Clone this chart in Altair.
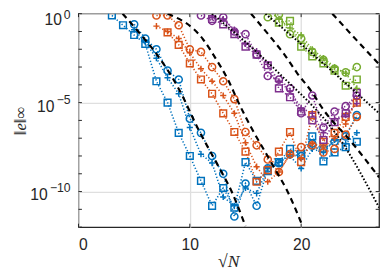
import altair as alt
import pandas as pd

# ---- data: sqrt(N) and log10(||e||_inf) ----
blue_circle_x = list(range(5, 26))
blue_circle_log = [-0.6, -1.4, -2.0, -3.2, -3.7, -5.9, -6.7, -8.0, -9.0, -11.4, -9.55,
                   -10.8, -8.7, -8.4, -7.9, -8.0, -7.3, -7.6, -7.2, -6.9, -5.7]
blue_square_x = list(range(3, 26))
blue_square_log = [-0.1, -0.65, -1.2, -1.7, -3.8, -5.0, -6.7, -8.0, -9.4, -10.8, -9.8,
                   -10.9, -8.35, -9.4, -8.85, -8.35, -7.6, -7.9, -6.9, -8.3, -7.8, -7.5, -7.2]
blue_plus_x = list(range(5, 26))
blue_plus_log = [-0.9, -1.6, -2.5, -3.6, -4.5, -6.4, -7.9, -8.4, -10.3, -10.8, -9.8,
                 -10.1, -8.7, -8.35, -8.0, -8.7, -7.6, -7.8, -7.1, -7.3, -6.7]

orange_circle_x = list(range(7, 26))
orange_circle_log = [-0.1, -0.1, -0.65, -2.0, -2.15, -3.0, -3.8, -4.8, -6.65, -7.4, -8.2,
                     -8.9, -7.9, -7.5, -7.4, -7.8, -7.6, -6.8, -5.8]
orange_square_x = list(range(8, 26))
orange_square_log = [-1.05, -1.75, -2.8, -3.7, -4.5, -5.6, -6.65, -7.75, -9.45, -8.8,
                     -7.75, -6.65, -8.35, -5.7, -7.2, -6.7, -5.8, -5.0]
orange_plus_x = list(range(7, 26))
orange_plus_log = [-0.7, -1.0, -1.4, -2.2, -3.1, -3.8, -4.6, -5.6, -7.25, -8.6, -9.45,
                   -8.9, -7.9, -8.1, -7.3, -7.5, -7.0, -6.2, -4.8]

purple_circle_x = list(range(11, 26))
purple_circle_log = [-0.1, -0.4, -0.2, -1.0, -1.15, -2.3, -3.5, -3.7, -4.2, -5.6, -4.6,
                     -6.4, -5.5, -5.2, -4.6]
purple_square_x = list(range(12, 26))
purple_square_log = [-0.3, -0.6, -1.15, -1.85, -2.3, -2.9, -4.2, -4.7, -5.5, -6.0, -7.1,
                     -6.1, -5.6, -4.45]
purple_plus_x = list(range(12, 26))
purple_plus_log = [-0.2, -0.3, -0.9, -1.7, -2.1, -2.85, -3.8, -4.35, -5.3, -5.6, -6.7,
                   -5.9, -5.7, -5.05]

green_circle_x = list(range(17, 26))
green_circle_log = [-0.2, -0.05, -1.15, -1.4, -2.15, -2.6, -3.1, -3.3, -3.0]
green_square_x = list(range(18, 26))
green_square_log = [-0.5, -0.4, -1.85, -2.4, -2.8, -3.2, -4.05, -3.7]
green_plus_x = list(range(18, 26))
green_plus_log = [-0.3, -0.8, -1.2, -2.0, -2.5, -3.0, -3.35, -4.2]

# reference curves (black)
dash1_x = [3.96, 5.9, 7.05, 9.07, 10.84, 12.5, 13.83, 15.0]
dash1_log = [0.0, -1.4, -2.3, -4.3, -6.6, -8.5, -10.1, -11.95]
dash2_x = [8.0, 11.2, 12.3, 13.5, 14.3, 15.6, 16.7, 17.8, 18.7, 20.1]
dash2_log = [0.0, -1.45, -2.5, -3.8, -4.9, -6.5, -7.7, -8.9, -9.9, -11.9]
dash3_x = [15.5, 17.4, 18.5, 19.65, 20.9, 22.0, 24.5, 27.0]
dash3_log = [0.0, -1.43, -2.3, -3.35, -4.35, -5.4, -7.2, -9.2]
dash4_x = [22.8, 25.0, 27.0]
dash4_log = [0.0, -1.5, -2.85]
dot1_x = [12.0, 17.6, 24.05, 27.0]
dot1_log = [0.0, -3.1, -7.6, -10.9]
dot2_x = [16.8, 22.0, 27.0]
dot2_log = [0.0, -2.8, -5.6]

x_tick_values = [0, 10, 20]
y_tick_values = [1.0, 1e-5, 1e-10]
y_tick_base = "10"
y_tick_exponents = ["0", "\u22125", "\u221210"]
y_minor_ticks = [10.0 ** (-k) for k in range(0, 13)]

color_names = ["blue", "orange", "purple", "green"]
color_values = ["#0072BD", "#D95319", "#7E2F8E", "#77AC30"]
marker_names = ["o", "s", "+"]
marker_shapes = ["circle", "square", "M-1,0L1,0M0,-1L0,1"]
marker_sizes = [54, 40, 64]

series = [
    ("blue", "o", blue_circle_x, blue_circle_log),
    ("blue", "s", blue_square_x, blue_square_log),
    ("blue", "+", blue_plus_x, blue_plus_log),
    ("orange", "o", orange_circle_x, orange_circle_log),
    ("orange", "s", orange_square_x, orange_square_log),
    ("orange", "+", orange_plus_x, orange_plus_log),
    ("purple", "o", purple_circle_x, purple_circle_log),
    ("purple", "s", purple_square_x, purple_square_log),
    ("purple", "+", purple_plus_x, purple_plus_log),
    ("green", "o", green_circle_x, green_circle_log),
    ("green", "s", green_square_x, green_square_log),
    ("green", "+", green_plus_x, green_plus_log),
]
rows = []
for i, (c, m, xs, ls) in enumerate(series):
    for xv, lv in zip(xs, ls):
        rows.append({"x": xv, "y": 10.0 ** lv, "color": c, "marker": m, "sid": i})
df = pd.DataFrame(rows)


def ref_df(curves):
    out = []
    for name, xs, ls in curves:
        for xv, lv in zip(xs, ls):
            out.append({"x": xv, "y": 10.0 ** lv, "rid": name})
    return pd.DataFrame(out)


dash_df = ref_df([("d1", dash1_x, dash1_log), ("d2", dash2_x, dash2_log),
                  ("d3", dash3_x, dash3_log), ("d4", dash4_x, dash4_log)])
dot_df = ref_df([("p1", dot1_x, dot1_log), ("p2", dot2_x, dot2_log)])

W, H = 307, 218
TXT = "#262626"
GRID = "#DFDFDF"
SANS = "Liberation Sans"

X = alt.X("x:Q", scale=alt.Scale(domain=[0, 27], nice=False, zero=False),
          axis=alt.Axis(values=x_tick_values, title="\u221aN", grid=True,
                        gridColor=GRID, gridWidth=1.3, ticks=False, tickSize=0, domain=False,
                        labelFontSize=16, labelPadding=10, labelFont=SANS,
                        labelColor=TXT, titleFont="Liberation Serif", titleFontStyle="italic",
                        titleFontWeight="normal", titleFontSize=18, titleColor=TXT,
                        titleX=153, titleY=35, titleBaseline="middle", titleAlign="center"))
Y = alt.Y("y:Q", scale=alt.Scale(type="log", domain=[1e-12, 1], nice=False),
          axis=alt.Axis(values=y_tick_values, labels=False, title="\u2016e\u2016\u221e",
                        grid=True, gridColor=GRID, gridWidth=1.3, ticks=False, tickSize=0,
                        domain=False,
                        titleFont="Liberation Serif", titleFontStyle="italic",
                        titleFontWeight="normal", titleFontSize=17, titleColor=TXT,
                        titleX=-59, titleY=109, titleAngle=270, titleBaseline="middle",
                        titleAlign="center"))

col = alt.Color("color:N", scale=alt.Scale(domain=color_names, range=color_values), legend=None)

lines = alt.Chart(df).mark_line(strokeDash=[1.3, 2.0], strokeWidth=1.6, clip=True).encode(
    x=X, y=Y, color=col, detail="sid:N")
points = alt.Chart(df).mark_point(filled=False, strokeWidth=1.5, clip=True, opacity=1).encode(
    x=X, y=Y, color=col,
    shape=alt.Shape("marker:N", scale=alt.Scale(domain=marker_names, range=marker_shapes), legend=None),
    size=alt.Size("marker:N", scale=alt.Scale(domain=marker_names, range=marker_sizes), legend=None))
dashes = alt.Chart(dash_df).mark_line(color="black", strokeDash=[6, 4.5], strokeWidth=2.2,
                                      clip=True, interpolate="monotone").encode(
    x=X, y=Y, detail="rid:N")
dots = alt.Chart(dot_df).mark_line(color="black", strokeDash=[1.6, 2.0], strokeWidth=2.0,
                                   clip=True, interpolate="monotone").encode(
    x=X, y=Y, detail="rid:N")

ytick_df = pd.DataFrame({"y": y_minor_ticks})
xtick_df = pd.DataFrame({"x": x_tick_values})
yt_left = alt.Chart(ytick_df).mark_rule(color=TXT, strokeWidth=1).encode(
    y=Y, x=alt.value(0), x2=alt.value(3.5))
yt_right = alt.Chart(ytick_df).mark_rule(color=TXT, strokeWidth=1).encode(
    y=Y, x=alt.value(W), x2=alt.value(W - 3.5))
xt_bot = alt.Chart(xtick_df).mark_rule(color=TXT, strokeWidth=1).encode(
    x=X, y=alt.value(H), y2=alt.value(H - 3.5))
xt_top = alt.Chart(xtick_df).mark_rule(color=TXT, strokeWidth=1).encode(
    x=X, y=alt.value(0), y2=alt.value(3.5))

# y tick labels "10" with raised exponent (per label styling)
base_right = [-17, -24.5, -31.5]
base_dy = [7, 5, 4]
exp_dy = [1, -3, -4]
label_layers = []
for v, ex, xr, bdy, edy in zip(y_tick_values, y_tick_exponents, base_right, base_dy, exp_dy):
    d = pd.DataFrame({"y": [v], "exp": [ex]})
    label_layers.append(
        alt.Chart(d).mark_text(align="right", baseline="middle", fontSize=16, font=SANS,
                               color=TXT, dy=bdy).encode(
            y=Y, x=alt.value(xr), text=alt.value(y_tick_base)))
    label_layers.append(
        alt.Chart(d).mark_text(align="right", baseline="middle", fontSize=12.5, font=SANS,
                               color=TXT, dy=edy).encode(
            y=Y, x=alt.value(-8), text="exp:N"))

chart = alt.layer(lines, points, dashes, dots, yt_left, yt_right, xt_bot, xt_top,
                  *label_layers).properties(
    width=W, height=H,
    autosize=alt.AutoSizeParams(type="none"),
    padding={"left": 72, "top": 3, "right": 4, "bottom": 42},
).configure_view(stroke=TXT, strokeWidth=1.3)

chart.save("out.html", embed_options={"renderer": "svg", "actions": False})
